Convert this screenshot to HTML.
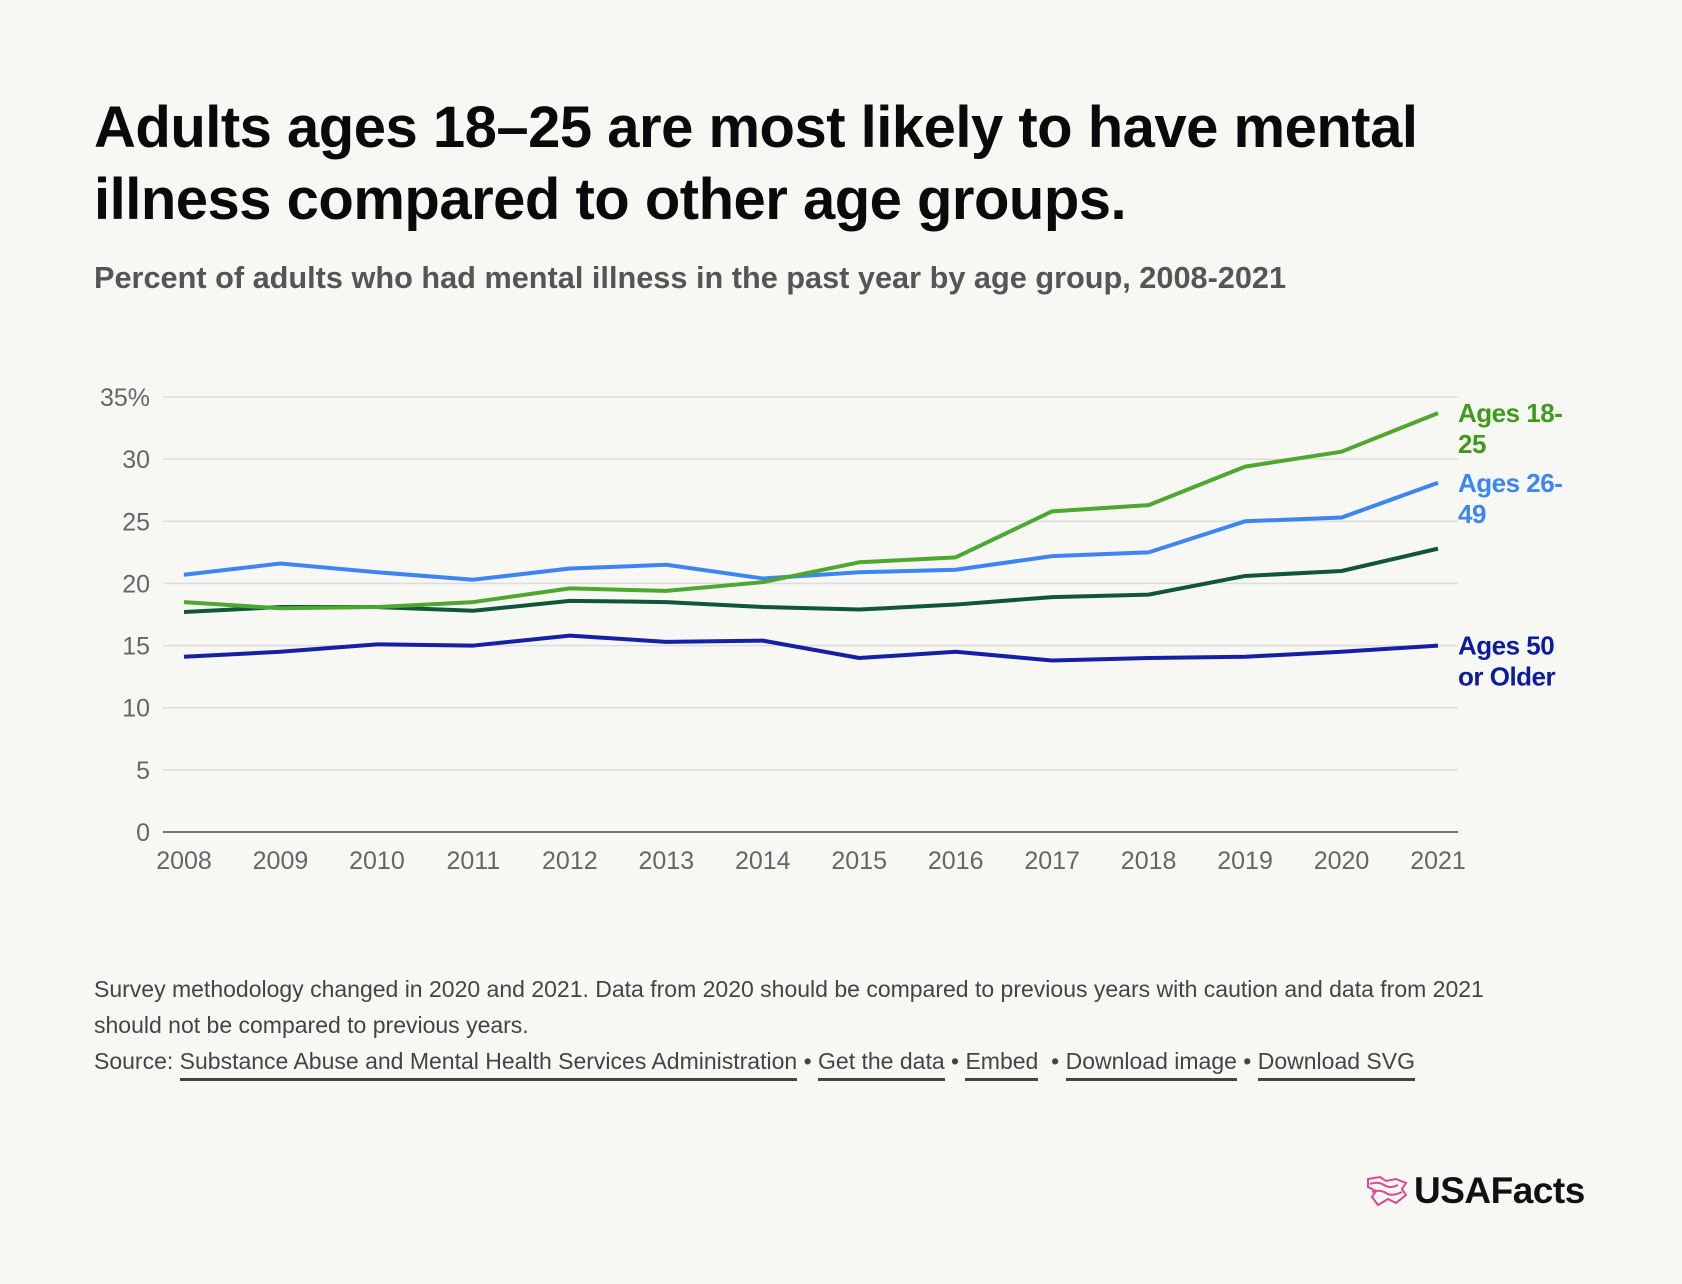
<!DOCTYPE html>
<html><head><meta charset="utf-8"><style>
body{margin:0;background:#f7f7f4;width:1682px;height:1284px;overflow:hidden;font-family:"Liberation Sans",sans-serif;}
.t{position:absolute;left:94px;top:92px;font-size:58px;font-weight:bold;line-height:72px;color:#0a0a0a;letter-spacing:-0.5px;margin:0}
.s{position:absolute;left:94px;top:260px;font-size:30.7px;color:#555;margin:0;font-weight:bold;letter-spacing:0px}
.f{position:absolute;left:94px;top:971px;font-size:23px;line-height:36px;color:#444;width:1440px;letter-spacing:0px}
.f a{color:#444;text-decoration:none;border-bottom:3px solid #444;padding-bottom:4px}
.logo{position:absolute;left:1366px;top:1170px;font-size:37px;font-weight:bold;color:#111;letter-spacing:-0.5px}
</style></head><body>
<h1 class="t">Adults ages 18–25 are most likely to have mental<br>illness compared to other age groups.</h1>
<p class="s">Percent of adults who had mental illness in the past year by age group, 2008-2021</p>
<svg id="chart" width="1682" height="1284" style="position:absolute;left:0;top:0"></svg>
<div class="f">Survey methodology changed in 2020 and 2021. Data from 2020 should be compared to previous years with caution and data from 2021 should not be compared to previous years.<br>
Source: <a>Substance Abuse and Mental Health Services Administration</a> • <a>Get the data</a> • <a>Embed</a> &nbsp;• <a>Download image</a> • <a>Download SVG</a></div>
<div class="logo"><svg width="42" height="32" viewBox="0 0 42 32" style="vertical-align:-4px;margin-right:6px"><path d="M2 4 L14 2 L20 6 L30 4 L40 8 L36 14 L40 20 L30 28 L22 24 L12 30 L6 22 L10 16 L2 12 Z" fill="none" stroke="#e0468f" stroke-width="2"/><path d="M4 9 Q12 6 18 10 T32 10 M6 17 Q14 14 20 18 T36 17" fill="none" stroke="#e0468f" stroke-width="2"/></svg>USAFacts</div>
<script>
const years=[2008,2009,2010,2011,2012,2013,2014,2015,2016,2017,2018,2019,2020,2021];
const ages18to25=[18.5,18.0,18.1,18.5,19.6,19.4,20.1,21.7,22.1,25.8,26.3,29.4,30.6,33.7];
const ages26to49=[20.7,21.6,20.9,20.3,21.2,21.5,20.4,20.9,21.1,22.2,22.5,25.0,25.3,28.1];
const allAdults=[17.7,18.1,18.1,17.8,18.6,18.5,18.1,17.9,18.3,18.9,19.1,20.6,21.0,22.8];
const ages50plus=[14.1,14.5,15.1,15.0,15.8,15.3,15.4,14.0,14.5,13.8,14.0,14.1,14.5,15.0];
const yTicks=[0,5,10,15,20,25,30,35];
const yTickLabels=["0","5","10","15","20","25","30","35%"];
const NS="http://www.w3.org/2000/svg";
const svg=document.getElementById('chart');
const X0=184,X1=1438,Y0=832,Y1=397,GL=163,GR=1458;
const x=i=>X0+(X1-X0)*i/(years.length-1);
const y=v=>Y0-(Y0-Y1)*v/35;
function mk(t,a){const e=document.createElementNS(NS,t);for(const k in a)e.setAttribute(k,a[k]);svg.appendChild(e);return e;}
yTicks.forEach((v,i)=>{
 const l=mk('line',{x1:GL,x2:GR,y1:y(v),y2:y(v),stroke:v===0?'#777':'#ddd','stroke-width':v===0?2:1.5});
 
 
 const t=mk('text',{x:150,y:y(v)+9,'text-anchor':'end','font-size':25,fill:'#666','font-family':'Liberation Sans, sans-serif'});
 t.textContent=yTickLabels[i];
 
 
});
years.forEach((yr,i)=>{
 const t=mk('text',{x:x(i),y:869,'text-anchor':'middle','font-size':25,fill:'#666','font-family':'Liberation Sans, sans-serif'});
 t.textContent=yr;
 
 
});
const series=[[allAdults,'#0f5738','all-adults-line'],[ages50plus,'#1520a6','ages-50-plus-line'],[ages26to49,'#3d85f0','ages-26-49-line'],[ages18to25,'#4ea72e','ages-18-25-line']];
series.forEach(([d,c,n])=>{
 const p=mk('polyline',{points:d.map((v,i)=>x(i)+','+y(v)).join(' '),fill:'none',stroke:c,'stroke-width':4,'stroke-linejoin':'round'});
 
 
});
const labels=[[ages18to25,'#3f9a1e',['Ages 18-','25'],'label-ages-18-25'],[ages26to49,'#3d85f0',['Ages 26-','49'],'label-ages-26-49'],[ages50plus,'#0d1c9c',['Ages 50','or Older'],'label-ages-50-plus']];
labels.forEach(([d,c,lines,n])=>{
 const t=mk('text',{x:1458,y:y(d[d.length-1])+9,'font-size':26,'font-weight':'bold',fill:c,'font-family':'Liberation Sans, sans-serif','letter-spacing':'-0.5'});
 lines.forEach((s,k)=>{const ts=document.createElementNS(NS,'tspan');ts.setAttribute('x',1458);ts.setAttribute('dy',k?31:0);ts.textContent=s;t.appendChild(ts);});
 
 
});
</script>
</body></html>
